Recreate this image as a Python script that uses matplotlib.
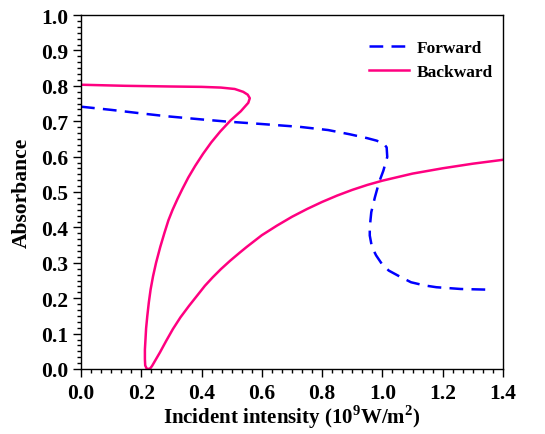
import numpy as np
import matplotlib
matplotlib.use('Agg')
import matplotlib.pyplot as plt
from matplotlib.ticker import MultipleLocator, AutoMinorLocator

plt.rcParams['font.family'] = ['Liberation Serif', 'DejaVu Serif']
plt.rcParams['font.weight'] = 'bold'
plt.rcParams['mathtext.fontset'] = 'custom'
plt.rcParams['mathtext.rm'] = 'Liberation Serif:bold'
plt.rcParams['mathtext.bf'] = 'Liberation Serif:bold'

# Forward curve (dashed blue)
fwd_x = [0.0, 0.10, 0.20, 0.284, 0.40, 0.483, 0.60, 0.726, 0.82, 0.892, 0.95, 0.981,
         1.005, 1.014, 1.016, 1.003, 0.989, 0.975, 0.963, 0.958, 0.958, 0.965, 0.979,
         0.998, 1.021, 1.06, 1.095, 1.14, 1.179, 1.26, 1.358]
fwd_y = [0.741, 0.732, 0.722, 0.714, 0.705, 0.699, 0.692, 0.684, 0.675, 0.663, 0.652, 0.645,
         0.636, 0.626, 0.599, 0.560, 0.528, 0.485, 0.443, 0.400, 0.377, 0.345, 0.321,
         0.297, 0.278, 0.260, 0.245, 0.236, 0.231, 0.226, 0.224]

# Backward curve (solid pink)
bwd_x = [0.0, 0.145, 0.30, 0.40, 0.464, 0.51, 0.538, 0.553, 0.560, 0.555, 0.53, 0.496,
         0.462, 0.432, 0.405, 0.379, 0.356, 0.336, 0.320, 0.304, 0.290, 0.277, 0.263,
         0.249, 0.239, 0.231, 0.225, 0.220, 0.216, 0.214, 0.212, 0.212, 0.213, 0.218,
         0.224, 0.230, 0.236, 0.262, 0.283, 0.305, 0.330, 0.358, 0.385, 0.411, 0.437,
         0.464, 0.495, 0.527, 0.55, 0.60, 0.65, 0.70, 0.75, 0.80, 0.85, 0.90,
         0.95, 1.00, 1.10, 1.20, 1.30, 1.40]
bwd_y = [0.803, 0.800, 0.798, 0.797, 0.795, 0.791, 0.783, 0.775, 0.765, 0.752, 0.728, 0.702,
         0.671, 0.640, 0.608, 0.574, 0.541, 0.508, 0.480, 0.450, 0.420, 0.385, 0.345,
         0.300, 0.262, 0.225, 0.188, 0.150, 0.115, 0.085, 0.055, 0.028, 0.010, 0.001,
         0.0, 0.002, 0.009, 0.047, 0.080, 0.113, 0.146, 0.178, 0.207, 0.235, 0.259,
         0.282, 0.306, 0.329, 0.345, 0.378, 0.405, 0.430, 0.452, 0.472, 0.490, 0.506,
         0.520, 0.532, 0.552, 0.567, 0.580, 0.591]

fig = plt.figure(figsize=(5.45, 4.35), dpi=100)
ax = fig.add_axes([81 / 545, 65 / 435, 422 / 545, 354 / 435])

ax.plot(fwd_x, fwd_y, color='#0000FF', lw=1.8, ls=(0, (5.5, 3.3)), label='Forward')
ax.plot(bwd_x, bwd_y, color='#FF0080', lw=1.8, label='Backward')

ax.set_xlim(0, 1.4)
ax.set_ylim(0, 1.0)
ax.xaxis.set_major_locator(MultipleLocator(0.2))
ax.yaxis.set_major_locator(MultipleLocator(0.1))
ax.xaxis.set_minor_locator(AutoMinorLocator(6))
ax.yaxis.set_minor_locator(AutoMinorLocator(6))
ax.tick_params(which='both', direction='out', top=False, right=False, labelsize=15.5, width=1, pad=3)
ax.tick_params(axis='x', which='major', pad=4)
ax.tick_params(which='major', length=6)
ax.tick_params(which='minor', length=3)
ax.set_xticklabels([f'{v:.1f}' for v in ax.get_xticks()])
ax.set_yticklabels([f'{v:.1f}' for v in ax.get_yticks()])
for s in ax.spines.values():
    s.set_linewidth(1)

ax.set_xlabel(r'Incident intensity (10$^{\mathbf{9}}$W/m$^{\mathbf{2}}$)', fontsize=15, fontweight='bold', labelpad=0)
ax.set_ylabel('Absorbance', fontsize=15.5, fontweight='bold', labelpad=7)

leg = ax.legend(loc='upper right', bbox_to_anchor=(1.0, 0.958), frameon=False, fontsize=12.5,
                handlelength=2.3, handletextpad=0.4, labelspacing=0.42, borderaxespad=0.2)

fig.savefig('out.png', dpi=100)
